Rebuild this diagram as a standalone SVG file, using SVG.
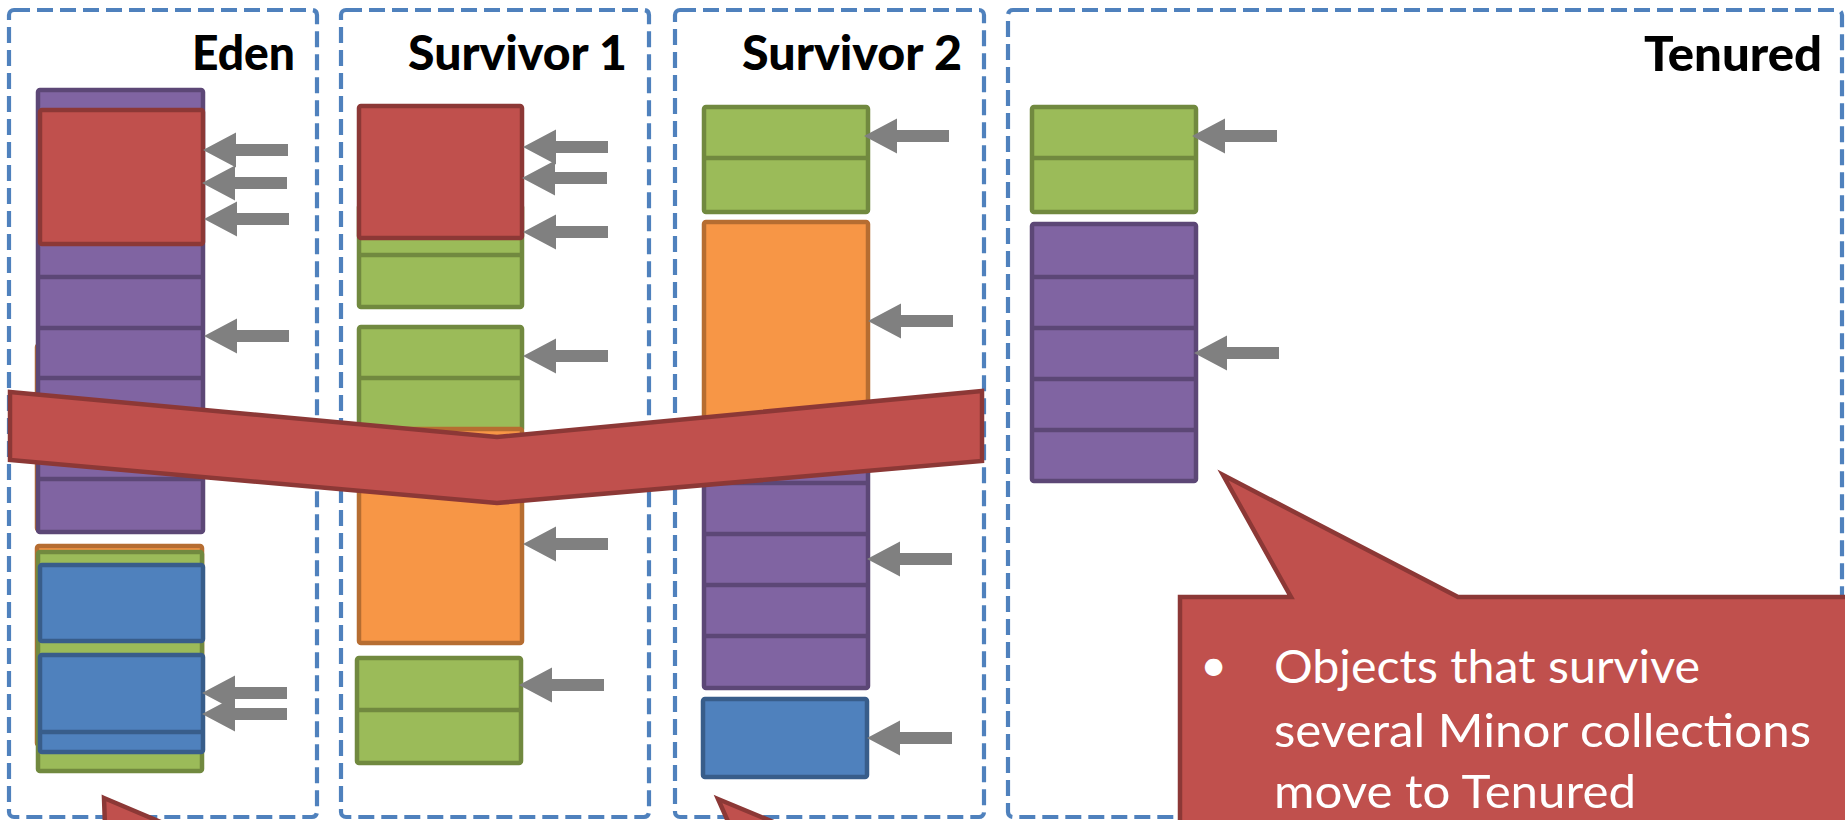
<svg xmlns="http://www.w3.org/2000/svg" xmlns:xlink="http://www.w3.org/1999/xlink" width="1845" height="820" viewBox="0 0 1845 820">
  <defs>
    <style>
      .frame { fill: #ffffff; stroke: #4F81BD; stroke-width: 4.2; stroke-dasharray: 16 7; }
      .title { font-family: Lato, "Open Sans", "Liberation Sans", sans-serif; font-weight: 900; font-size: 47px; fill: #000000; }
      .red { fill: #C0504D; stroke: #8C3836; stroke-width: 4.5; }
      .purple { fill: #8064A2; stroke: #5C4776; stroke-width: 4.5; }
      .green { fill: #9BBB59; stroke: #71893F; stroke-width: 4.5; }
      .orange { fill: #F79646; stroke: #B66D31; stroke-width: 4.5; }
      .blue { fill: #4F81BD; stroke: #385D8A; stroke-width: 4.5; }
      .div-purple { stroke: #5C4776; stroke-width: 4.5; }
      .div-green { stroke: #71893F; stroke-width: 4.5; }
      .div-blue { stroke: #385D8A; stroke-width: 4.5; }
      .ptr { fill: #808080; }
      .band { fill: #C0504D; stroke: #8C3836; stroke-width: 4.5; stroke-linejoin: miter; }
      .note { font-family: Lato, "Open Sans", "Liberation Sans", sans-serif; font-size: 47px; fill: #ffffff; }
    </style>
    <!-- left-pointing block arrow, tip at the origin -->
    <path id="ptr" d="M0,0 L33,-17.5 L33,-6 L85,-6 L85,6 L33,6 L33,17.5 Z"/>
  </defs>

  <rect width="1845" height="820" fill="#ffffff"/>

  <!-- Eden -->
  <g id="eden">
    <rect class="frame" x="9" y="10" width="308" height="807" rx="5"/>
    <text class="title" x="295" y="70" text-anchor="end" textLength="103" lengthAdjust="spacingAndGlyphs">Eden</text>
    <rect class="orange" x="37" y="345" width="165" height="185" rx="2"/>
    <rect class="purple" x="38" y="90" width="165" height="442" rx="2"/>
    <line class="div-purple" x1="38" y1="277" x2="203" y2="277"/>
    <line class="div-purple" x1="38" y1="328" x2="203" y2="328"/>
    <line class="div-purple" x1="38" y1="378" x2="203" y2="378"/>
    <line class="div-purple" x1="38" y1="429" x2="203" y2="429"/>
    <line class="div-purple" x1="38" y1="479" x2="203" y2="479"/>
    <rect class="red" x="40" y="110" width="163" height="134" rx="2"/>
    <rect class="orange" x="37" y="546" width="165" height="199" rx="2"/>
    <rect class="green" x="38" y="552" width="164" height="219" rx="2"/>
    <rect class="blue" x="40" y="565" width="163" height="76" rx="2"/>
    <rect class="blue" x="40" y="655" width="163" height="97" rx="2"/>
    <line class="div-blue" x1="40" y1="732" x2="203" y2="732"/>
  </g>

  <!-- Survivor 1 -->
  <g id="survivor1">
    <rect class="frame" x="341" y="10" width="308" height="807" rx="5"/>
    <text class="title" x="627" y="70" text-anchor="end" textLength="219" lengthAdjust="spacingAndGlyphs">Survivor 1</text>
    <rect class="green" x="359" y="205" width="163" height="102" rx="2"/>
    <line class="div-green" x1="359" y1="255" x2="522" y2="255"/>
    <rect class="red" x="359" y="106" width="163" height="132" rx="2"/>
    <rect class="green" x="359" y="327" width="163" height="104" rx="2"/>
    <line class="div-green" x1="359" y1="378" x2="522" y2="378"/>
    <rect class="orange" x="359" y="429" width="163" height="214" rx="2"/>
    <rect class="green" x="357" y="658" width="164" height="105" rx="2"/>
    <line class="div-green" x1="357" y1="710" x2="521" y2="710"/>
  </g>

  <!-- Survivor 2 -->
  <g id="survivor2">
    <rect class="frame" x="675" y="10" width="309" height="807" rx="5"/>
    <text class="title" x="962" y="70" text-anchor="end" textLength="220" lengthAdjust="spacingAndGlyphs">Survivor 2</text>
    <rect class="green" x="704" y="107" width="164" height="105" rx="2"/>
    <line class="div-green" x1="704" y1="158" x2="868" y2="158"/>
    <rect class="orange" x="704" y="222" width="164" height="212" rx="2"/>
    <rect class="purple" x="704" y="432" width="164" height="256" rx="2"/>
    <line class="div-purple" x1="704" y1="483" x2="868" y2="483"/>
    <line class="div-purple" x1="704" y1="534" x2="868" y2="534"/>
    <line class="div-purple" x1="704" y1="585" x2="868" y2="585"/>
    <line class="div-purple" x1="704" y1="636" x2="868" y2="636"/>
    <rect class="blue" x="703" y="699" width="164" height="78" rx="2"/>
  </g>

  <!-- Tenured -->
  <g id="tenured">
    <rect class="frame" x="1008" y="10" width="834" height="807" rx="5"/>
    <text class="title" x="1822" y="71" text-anchor="end" textLength="178" lengthAdjust="spacingAndGlyphs">Tenured</text>
    <rect class="green" x="1032" y="107" width="164" height="105" rx="2"/>
    <line class="div-green" x1="1032" y1="158" x2="1196" y2="158"/>
    <rect class="purple" x="1032" y="224" width="164" height="257" rx="2"/>
    <line class="div-purple" x1="1032" y1="277" x2="1196" y2="277"/>
    <line class="div-purple" x1="1032" y1="328" x2="1196" y2="328"/>
    <line class="div-purple" x1="1032" y1="379" x2="1196" y2="379"/>
    <line class="div-purple" x1="1032" y1="430" x2="1196" y2="430"/>
  </g>

  <!-- reference pointers into the heap blocks -->
  <g id="pointers" class="ptr">
    <use href="#ptr" x="203" y="150"/>
    <use href="#ptr" x="202" y="183"/>
    <use href="#ptr" x="204" y="219"/>
    <use href="#ptr" x="204" y="336"/>
    <use href="#ptr" x="202" y="693"/>
    <use href="#ptr" x="202" y="714"/>
    <use href="#ptr" x="523" y="147"/>
    <use href="#ptr" x="522" y="178"/>
    <use href="#ptr" x="523" y="232"/>
    <use href="#ptr" x="523" y="356"/>
    <use href="#ptr" x="523" y="544"/>
    <use href="#ptr" x="519" y="685"/>
    <use href="#ptr" x="864" y="136"/>
    <use href="#ptr" x="868" y="321"/>
    <use href="#ptr" x="867" y="559"/>
    <use href="#ptr" x="867" y="738"/>
    <use href="#ptr" x="1192" y="136"/>
    <use href="#ptr" x="1194" y="353"/>
  </g>

  <!-- bent band across the young generation -->
  <g id="band">
    <path class="band" d="M10,392 L497,437 L982,391 L982,461 L497,503 L10,460 Z"/>
  </g>

  <!-- callout tails rising from below -->
  <g id="tail-eden">
    <path class="band" d="M104,798 L170,826 L105,826 Z"/>
  </g>
  <g id="tail-survivor2">
    <path class="band" d="M718,799 L783,826 L730,826 Z"/>
  </g>

  <!-- tenured callout -->
  <g id="callout">
    <path class="band" d="M1180,597 L1291,597 L1223,475 L1458,597 L1850,597 L1850,830 L1180,830 Z"/>
    <text class="note" x="1200" y="681">•</text>
    <text class="note" x="1274" y="683" textLength="426" lengthAdjust="spacingAndGlyphs">Objects that survive</text>
    <text class="note" x="1274" y="747" textLength="537" lengthAdjust="spacingAndGlyphs">several Minor collections</text>
    <text class="note" x="1274" y="808" textLength="362" lengthAdjust="spacingAndGlyphs">move to Tenured</text>
  </g>
</svg>
